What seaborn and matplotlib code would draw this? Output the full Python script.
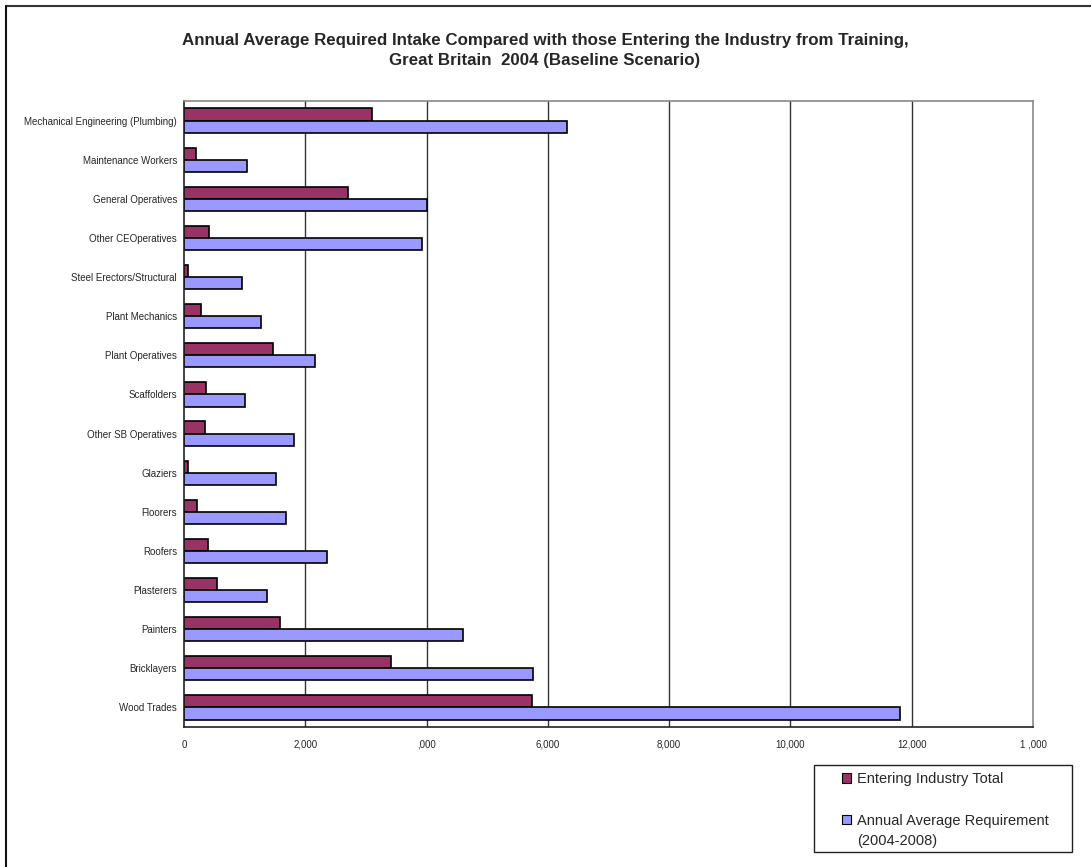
import matplotlib
matplotlib.use("Agg")
import matplotlib.pyplot as plt
import matplotlib.patches as mpatches
from matplotlib.lines import Line2D
import pandas as pd
import seaborn as sns

trades = [
    "Mechanical Engineering (Plumbing)", "Maintenance Workers", "General Operatives",
    "Other CEOperatives", "Steel Erectors/Structural", "Plant Mechanics",
    "Plant Operatives", "Scaffolders", "Other SB Operatives", "Glaziers",
    "Floorers", "Roofers", "Plasterers", "Painters", "Bricklayers", "Wood Trades",
]
entering = [3100, 200, 2710, 420, 65, 280, 1460, 370, 345, 65,
            215, 390, 545, 1590, 3420, 5740]
requirement = [6320, 1045, 4010, 3925, 960, 1265, 2160, 1005, 1810, 1510,
               1680, 2350, 1375, 4600, 5755, 11800]
series_names = ["Entering Industry Total", "Annual Average Requirement"]
series_note = "(2004-2008)"
colors = ["#993366", "#9999FF"]
xticks = [0, 2000, 4000, 6000, 8000, 10000, 12000, 14000]
xtick_labels = ["0", "2,000", ",000", "6,000", "8,000", "10,000", "12,000", "1 ,000"]

df = pd.DataFrame({
    "trade": trades * 2,
    "value": entering + requirement,
    "series": [series_names[0]] * len(trades) + [series_names[1]] * len(trades),
})

sns.set_theme(style="white")
plt.rcParams["font.family"] = ["Liberation Sans", "DejaVu Sans"]

W, H = 1091, 867
fig = plt.figure(figsize=(W / 100, H / 100), dpi=100)
ax = fig.add_axes([184 / W, 1 - 727 / H, (1033 - 184) / W, (727 - 101) / H])

sns.barplot(data=df, y="trade", x="value", hue="series", order=trades,
            hue_order=series_names, palette=colors, orient="h", width=0.62,
            edgecolor="black", linewidth=1.2, saturation=1, legend=False, ax=ax)

ax.set_xlim(0, 14000)
ax.set_ylim(len(trades) - 0.5, -0.5)
ax.set_xticks(xticks)
ax.set_xticklabels(xtick_labels, fontsize=7)
ax.set_yticks(range(len(trades)))
ax.set_yticklabels(trades, fontsize=7)
ax.set_yticks([i - 0.5 for i in range(len(trades) + 1)], minor=True)
ax.tick_params(axis="y", which="major", length=0, pad=5)
ax.tick_params(axis="y", which="minor", length=4, width=1, direction="out", color="#222")
ax.tick_params(axis="x", length=4, width=1, direction="out", color="#222", pad=5)
ax.set_xlabel("")
ax.set_ylabel("")

for x in xticks[1:-1]:
    ax.axvline(x, color="#333333", lw=1, zorder=0)
for side in ["top", "right"]:
    ax.spines[side].set_color("#888888")
    ax.spines[side].set_linewidth(1.2)
for side in ["left", "bottom"]:
    ax.spines[side].set_color("#222222")
    ax.spines[side].set_linewidth(1.2)

fig.text(545 / W, 1 - 41 / H,
         "Annual Average Required Intake Compared with those Entering the Industry from Training,",
         ha="center", va="center", fontsize=12.2, fontweight="bold")
fig.text(545 / W, 1 - 60 / H, "Great Britain  2004 (Baseline Scenario)",
         ha="center", va="center", fontsize=12.2, fontweight="bold")

# legend: box, two entries, second label wraps onto a note line
fig.add_artist(mpatches.Rectangle((814 / W, 1 - 852 / H), (1072 - 814) / W, (852 - 765) / H,
                                  transform=fig.transFigure, facecolor="white",
                                  edgecolor="#222222", lw=1))
handles = [mpatches.Patch(facecolor=c, edgecolor="black", linewidth=0.8) for c in colors]
leg = fig.legend(handles, series_names, loc="upper left",
                 bbox_to_anchor=(842 / W, 1 - 772 / H),
                 fontsize=10.5, frameon=False,
                 handlelength=0.65, handleheight=0.65, handletextpad=0.35,
                 labelspacing=1.9, borderpad=0, borderaxespad=0)
fig.text(857 / W, 1 - 841 / H, series_note, ha="left", va="center", fontsize=10.5)

# outer chart frame (only top and left visible in the reference)
fig.add_artist(Line2D([6 / W, 1], [1 - 6 / H, 1 - 6 / H], color="#333333", lw=1.5))
fig.add_artist(Line2D([6 / W, 6 / W], [0, 1 - 6 / H], color="#111111", lw=1.5))

fig.savefig("out.png", dpi=100, facecolor="white")
